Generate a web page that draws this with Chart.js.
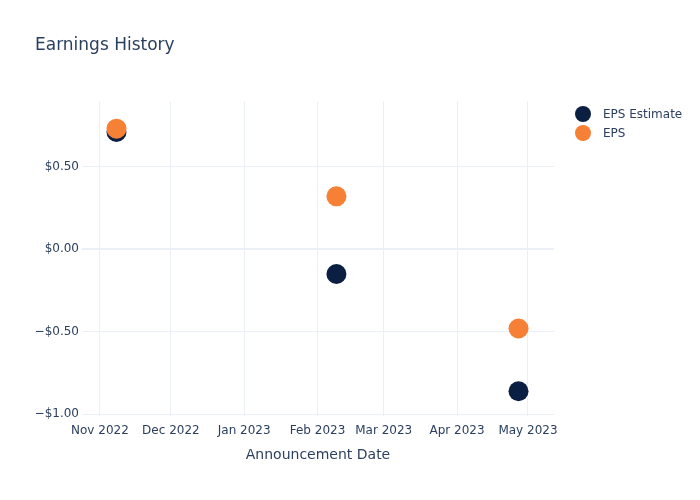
<!DOCTYPE html>
<html>
<head>
<meta charset="utf-8">
<script src="https://cdn.jsdelivr.net/npm/chart.js@4.4.0/dist/chart.umd.min.js"></script>
<style>
  body { margin: 0; background: #fff; }
</style>
</head>
<body>
<canvas id="earningsChart" width="700" height="500"></canvas>
<script>
// data
const announceDates = ["2022-11-08", "2023-02-09", "2023-04-27"];
const epsEstimate = [0.71, -0.15, -0.86];
const epsActual = [0.73, 0.32, -0.48];

const monthTicks = ["2022-11-01", "2022-12-01", "2023-01-01", "2023-02-01", "2023-03-01", "2023-04-01", "2023-05-01"];
const monthLabels = ["Nov 2022", "Dec 2022", "Jan 2023", "Feb 2023", "Mar 2023", "Apr 2023", "May 2023"];
const yTicks = [-1, -0.5, 0, 0.5];

const toMs = (d) => Date.parse(d + "T00:00:00Z");
const FONT = "'DejaVu Sans', sans-serif";
const TEXT = "#2a3f5f";
const GRID = "#ebf0f8";

function formatMoney(v) {
  const s = "$" + Math.abs(v).toFixed(2);
  return v < 0 ? "\u2212" + s : s;
}

// legend drawn by hand so it sits top-right like the original
const sideLegend = {
  id: "sideLegend",
  afterDraw(chart) {
    const ctx = chart.ctx;
    ctx.save();
    ctx.font = "12px " + FONT;
    ctx.textBaseline = "middle";
    chart.data.datasets.forEach((ds, i) => {
      const y = 114 + i * 19;
      ctx.beginPath();
      ctx.arc(583, y, 8, 0, Math.PI * 2);
      ctx.fillStyle = ds.backgroundColor;
      ctx.fill();
      ctx.fillStyle = TEXT;
      ctx.fillText(ds.label, 603, y + 1);
    });
    ctx.restore();
  }
};

const ctx = document.getElementById("earningsChart").getContext("2d");
new Chart(ctx, {
  type: "scatter",
  data: {
    datasets: [
      {
        label: "EPS Estimate",
        data: announceDates.map((d, i) => ({ x: toMs(d), y: epsEstimate[i] })),
        backgroundColor: "#0b1f42",
        borderColor: "#0b1f42",
        pointRadius: 10,
        borderWidth: 0,
        order: 1
      },
      {
        label: "EPS",
        data: announceDates.map((d, i) => ({ x: toMs(d), y: epsActual[i] })),
        backgroundColor: "#f68036",
        borderColor: "#f68036",
        pointRadius: 10,
        borderWidth: 0,
        order: 0
      }
    ]
  },
  options: {
    responsive: false,
    animation: false,
    layout: {
      padding: { left: 35, right: 146, top: 0, bottom: 0 }
    },
    plugins: {
      legend: { display: false },
      tooltip: { enabled: false },
      title: {
        display: true,
        text: "Earnings History",
        align: "start",
        color: TEXT,
        font: { size: 17, family: FONT, weight: "normal" },
        padding: { top: 35, bottom: 46 }
      }
    },
    scales: {
      x: {
        type: "linear",
        min: toMs("2022-10-24") + 10 * 3600e3,
        max: toMs("2023-05-12"),
        afterFit(scale) { scale.height = 84; },
        afterBuildTicks(scale) {
          scale.ticks = monthTicks.map((d) => ({ value: toMs(d) }));
        },
        grid: { color: GRID, drawTicks: false },
        border: { display: false },
        ticks: {
          color: TEXT,
          padding: 8,
          maxRotation: 0,
          autoSkip: false,
          font: { size: 12, family: FONT },
          callback: (v) => monthLabels[monthTicks.findIndex((d) => toMs(d) === v)]
        },
        title: {
          display: true,
          text: "Announcement Date",
          color: TEXT,
          font: { size: 14, family: FONT },
          padding: { top: 0, bottom: 36 }
        }
      },
      y: {
        min: -1.01,
        max: 0.895,
        afterFit(scale) { scale.width = 47; },
        afterBuildTicks(scale) {
          scale.ticks = yTicks.map((v) => ({ value: v }));
        },
        grid: {
          color: GRID,
          drawTicks: false,
          lineWidth: (c) => (c.tick && c.tick.value === 0 ? 2 : 1)
        },
        border: { display: false },
        ticks: {
          color: TEXT,
          padding: 3,
          font: { size: 12, family: FONT },
          callback: (v) => formatMoney(v)
        }
      }
    }
  },
  plugins: [sideLegend]
});
</script>
</body>
</html>
